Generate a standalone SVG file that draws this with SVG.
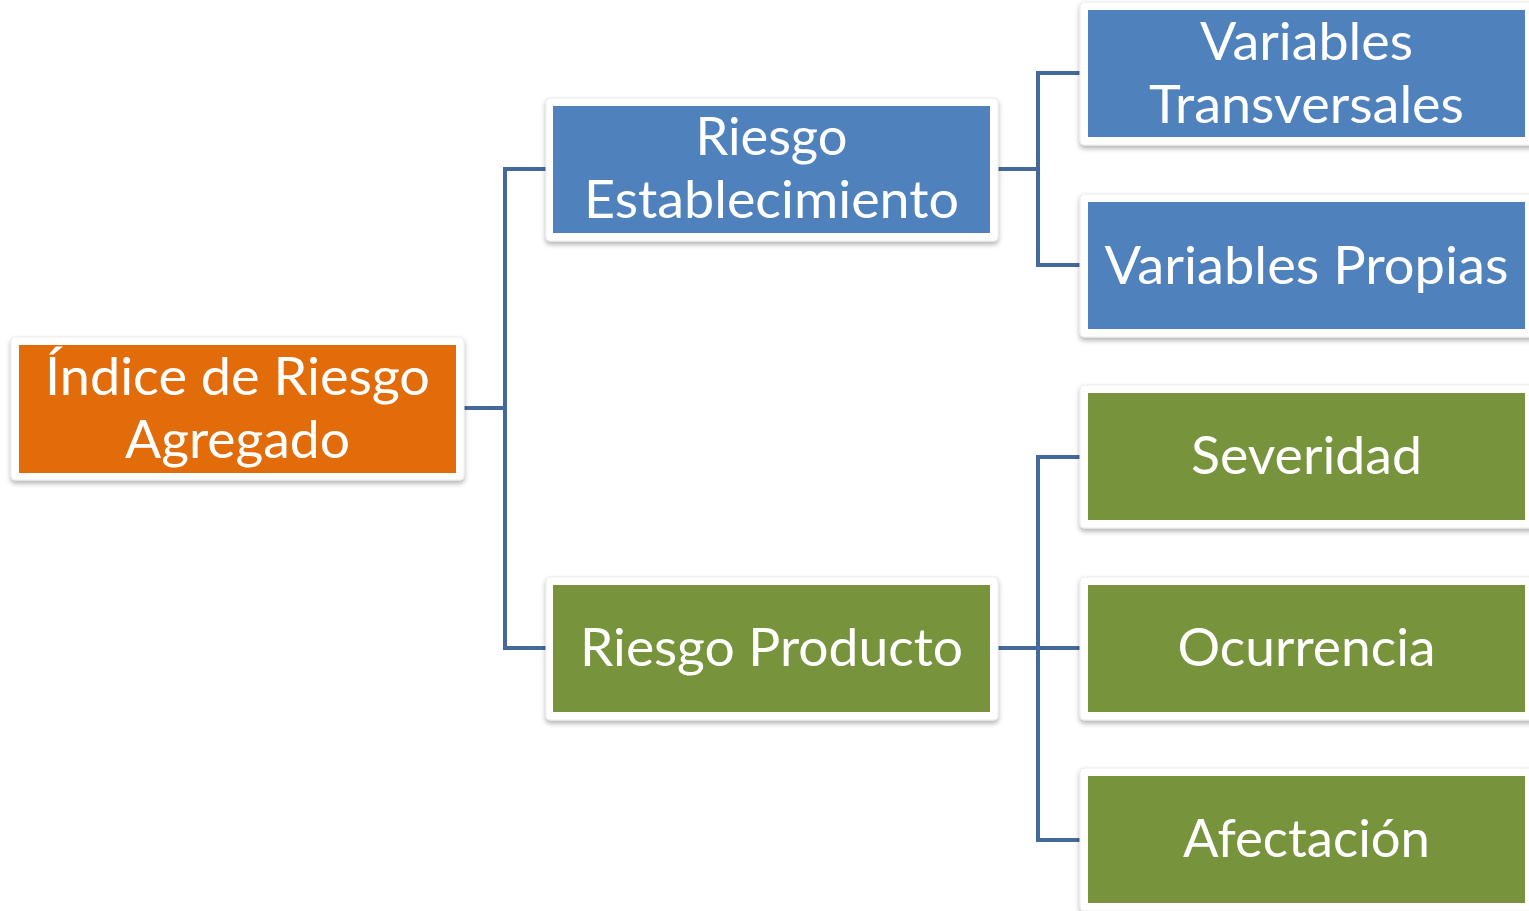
<svg xmlns="http://www.w3.org/2000/svg" width="1529" height="911" viewBox="0 0 1529 911">
<defs>
<filter id="sh" x="-5%" y="-10%" width="110%" height="125%">
<feDropShadow dx="0" dy="3" stdDeviation="2.5" flood-color="#000" flood-opacity="0.3"/>
</filter>
<style>
.frame{fill:#fff;stroke:#ececec;stroke-width:1;filter:url(#sh)}
.or{fill:#e36c0a}
.bl{fill:#4f81bd}
.gr{fill:#77933c}
.t{font-family:Lato,"Open Sans","Liberation Sans",sans-serif;font-size:52px;fill:#fff;text-anchor:middle}
.c{fill:none;stroke:#44699c;stroke-width:4}
</style>
</defs>
<g id="connectors">
<polyline class="c" points="464,408 505,408"/>
<polyline class="c" points="546,169 505,169 505,648 546,648"/>
<polyline class="c" points="998,169 1038,169"/>
<polyline class="c" points="1080,73 1038,73 1038,265 1080,265"/>
<polyline class="c" points="998,648 1080,648"/>
<polyline class="c" points="1080,457 1038,457 1038,840 1080,840"/>
</g>
<g id="n-root">
<rect class="frame" x="11" y="337" width="453" height="143" rx="4"/>
<rect class="or" x="19" y="345" width="437" height="128"/>
<text class="t" x="237.5" y="395" textLength="385" lengthAdjust="spacingAndGlyphs">Índice de Riesgo</text>
<text class="t" x="237.5" y="458" textLength="225" lengthAdjust="spacingAndGlyphs">Agregado</text>
</g>
<g id="n-est">
<rect class="frame" x="546" y="98" width="452" height="143" rx="4"/>
<rect class="bl" x="553" y="106" width="437" height="127"/>
<text class="t" x="771.5" y="155" textLength="152" lengthAdjust="spacingAndGlyphs">Riesgo</text>
<text class="t" x="771.5" y="218" textLength="375" lengthAdjust="spacingAndGlyphs">Establecimiento</text>
</g>
<g id="n-prod">
<rect class="frame" x="546" y="577" width="452" height="143" rx="4"/>
<rect class="gr" x="553" y="585" width="437" height="127"/>
<text class="t" x="771.5" y="666" textLength="383" lengthAdjust="spacingAndGlyphs">Riesgo Producto</text>
</g>
<g id="n-vt">
<rect class="frame" x="1080" y="2" width="460" height="143" rx="4"/>
<rect class="bl" x="1088" y="10" width="437" height="127"/>
<text class="t" x="1306.5" y="60" textLength="213" lengthAdjust="spacingAndGlyphs">Variables</text>
<text class="t" x="1306.5" y="123" textLength="315" lengthAdjust="spacingAndGlyphs">Transversales</text>
</g>
<g id="n-vp">
<rect class="frame" x="1080" y="194" width="460" height="143" rx="4"/>
<rect class="bl" x="1088" y="202" width="437" height="127"/>
<text class="t" x="1306.5" y="284" textLength="404" lengthAdjust="spacingAndGlyphs">Variables Propias</text>
</g>
<g id="n-sev">
<rect class="frame" x="1080" y="385" width="460" height="143" rx="4"/>
<rect class="gr" x="1088" y="393" width="437" height="127"/>
<text class="t" x="1306.5" y="474" textLength="231" lengthAdjust="spacingAndGlyphs">Severidad</text>
</g>
<g id="n-ocu">
<rect class="frame" x="1080" y="577" width="460" height="143" rx="4"/>
<rect class="gr" x="1088" y="585" width="437" height="127"/>
<text class="t" x="1306.5" y="666" textLength="258" lengthAdjust="spacingAndGlyphs">Ocurrencia</text>
</g>
<g id="n-afe">
<rect class="frame" x="1080" y="768" width="460" height="143" rx="4"/>
<rect class="gr" x="1088" y="776" width="437" height="127"/>
<text class="t" x="1306.5" y="857" textLength="247" lengthAdjust="spacingAndGlyphs">Afectación</text>
</g>
</svg>
